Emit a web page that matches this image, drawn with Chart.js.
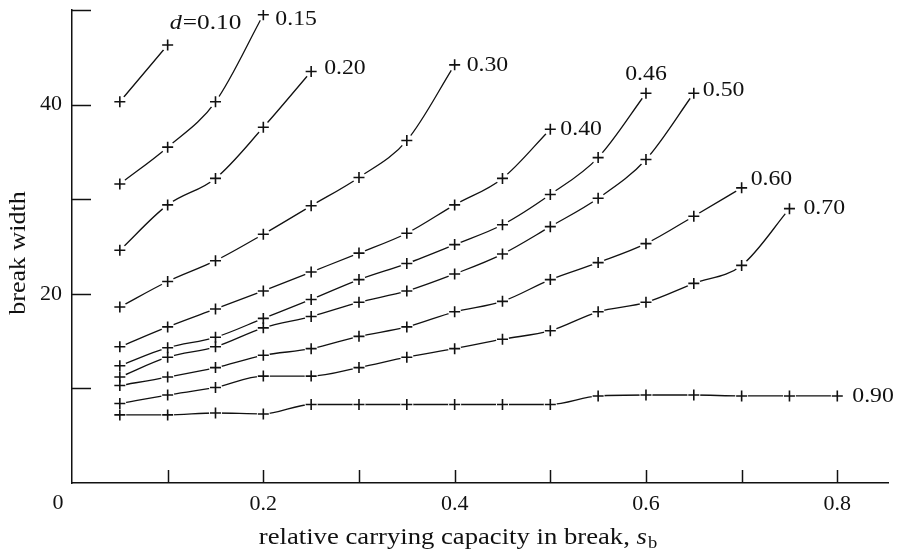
<!DOCTYPE html>
<html>
<head>
<meta charset="utf-8">
<script src="https://cdn.jsdelivr.net/npm/chart.js@4.4.1/dist/chart.umd.min.js"></script>
<style>
  html, body { margin: 0; padding: 0; background: #fff; }
  #wrap { width: 902px; height: 553px; }
</style>
</head>
<body>
<div id="wrap"><canvas id="myChart" width="902" height="553"></canvas></div>
<script>
// relative carrying capacity in break (x positions of the measured points)
var sb = [0.05, 0.10, 0.15, 0.20, 0.25, 0.30, 0.35, 0.40, 0.45, 0.50, 0.55, 0.60, 0.65, 0.70, 0.75, 0.80];

// break width for each d, starting at sb = 0.05
var d010 = [40.3, 46.3];
var d015 = [31.6, 35.5, 40.3, 49.5];
var d020 = [24.6, 29.4, 32.2, 37.6, 43.5];
var d030 = [18.6, 21.3, 23.5, 26.3, 29.3, 32.3, 36.2, 44.2];
var d040 = [14.4, 16.5, 18.4, 20.3, 22.3, 24.3, 26.4, 29.4, 32.2, 37.4];
var d046 = [12.4, 14.3, 15.4, 17.4, 19.4, 21.5, 23.2, 25.2, 27.3, 30.5, 34.4, 41.2];
var d050 = [11.2, 13.3, 14.4, 16.4, 17.6, 19.1, 20.3, 22.1, 24.2, 27.1, 30.1, 34.2, 41.2];
var d060 = [10.3, 11.2, 12.2, 13.5, 14.2, 15.5, 16.5, 18.1, 19.2, 21.5, 23.3, 25.3, 28.2, 31.2];
var d070 = [8.4, 9.3, 10.1, 11.3, 11.3, 12.2, 13.3, 14.2, 15.2, 16.1, 18.1, 19.1, 21.1, 23.0, 29.0];
var d090 = [7.2, 7.2, 7.4, 7.3, 8.3, 8.3, 8.3, 8.3, 8.3, 8.3, 9.2, 9.3, 9.3, 9.2, 9.2, 9.2];

var curveNames = ['0.10', '0.15', '0.20', '0.30', '0.40', '0.46', '0.50', '0.60', '0.70', '0.90'];
var curveValues = [d010, d015, d020, d030, d040, d046, d050, d060, d070, d090];

var yTickLabels = [20, 40];
var xTickLabels = [0.2, 0.4, 0.6, 0.8];

// where the d label sits relative to the last point of its curve (px)
var labelOffsets = [
    [2, -22, 'left'], [12, 4, 'left'], [13, -3, 'left'], [12, 0, 'left'], [10, 0, 'left'],
    [0, -19, 'center'], [9, -3, 'left'], [9, -9, 'left'], [14, 0, 'left'], [15, 0, 'left']
];

var FONT = '"Liberation Serif"';
var INK = '#111';

function toPoints(vals) {
    return vals.map(function (v, i) { return { x: sb[i], y: v }; });
}

// text drawn a little wider than Liberation Serif, closer to the original typeface
function wideText(ctx, text, x, y, font, sx, align) {
    ctx.save();
    ctx.font = font;
    var w = ctx.measureText(text).width * sx;
    var left = align === 'center' ? x - w / 2 : x;
    ctx.translate(left, y);
    ctx.scale(sx, 1);
    ctx.textAlign = 'left';
    ctx.fillText(text, 0, 0);
    ctx.restore();
    return w;
}

var datasets = [];
curveValues.forEach(function (vals, i) {
    var pts = toPoints(vals);
    // the curve itself
    datasets.push({
        label: curveNames[i], data: pts, order: 3,
        borderColor: INK, borderWidth: 1.3, pointRadius: 0,
        cubicInterpolationMode: 'monotone', fill: false
    });
    // small white gap round each marker
    datasets.push({
        label: curveNames[i] + ' gap', data: pts, order: 2, showLine: false,
        pointStyle: 'circle', pointRadius: 6.5, pointBorderWidth: 0,
        pointBackgroundColor: '#fff', pointBorderColor: '#fff'
    });
    // the + markers
    datasets.push({
        label: curveNames[i] + ' marks', data: pts, order: 1, showLine: false,
        pointStyle: 'cross', pointRadius: 5.5, pointBorderWidth: 1.6,
        pointBorderColor: INK, pointBackgroundColor: INK
    });
});

var decorPlugin = {
    id: 'decor',
    afterDraw: function (chart) {
        var ctx = chart.ctx;
        var xs = chart.scales.x, ys = chart.scales.y;
        var area = chart.chartArea;
        ctx.save();
        ctx.strokeStyle = INK;
        ctx.lineWidth = 1.5;
        // inward tick marks
        [10, 20, 30, 40, 50].forEach(function (v) {
            var py = Math.round(ys.getPixelForValue(v)) + 0.5;
            ctx.beginPath();
            ctx.moveTo(area.left, py);
            ctx.lineTo(area.left + 19, py);
            ctx.stroke();
        });
        for (var k = 1; k <= 8; k++) {
            var px = Math.round(xs.getPixelForValue(k / 10)) + 0.5;
            ctx.beginPath();
            ctx.moveTo(px, area.bottom);
            ctx.lineTo(px, area.bottom - 13);
            ctx.stroke();
        }

        ctx.fillStyle = INK;
        ctx.textBaseline = 'middle';
        // curve labels
        curveValues.forEach(function (vals, i) {
            var last = vals.length - 1;
            var px = xs.getPixelForValue(sb[last]);
            var py = ys.getPixelForValue(vals[last]);
            var off = labelOffsets[i];
            if (i === 0) {
                var x0 = px + off[0];
                var w = wideText(ctx, 'd', x0, py + off[1], 'italic 22px ' + FONT, 1.1, 'left');
                wideText(ctx, '=' + curveNames[i], x0 + w + 1, py + off[1], '22px ' + FONT, 1.15, 'left');
            } else {
                wideText(ctx, curveNames[i], px + off[0], py + off[1], '22px ' + FONT, 1.08, off[2]);
            }
        });

        // origin label
        ctx.font = '22px ' + FONT;
        ctx.textAlign = 'center';
        ctx.fillText('0', area.left - 14, area.bottom + 20);

        // x axis title with italic s and subscript b
        var y0 = 538, sx = 1.16;
        var main = 'relative carrying capacity in break, ';
        ctx.font = '23px ' + FONT;
        var wMain = ctx.measureText(main).width * sx;
        ctx.font = 'italic 23px ' + FONT;
        var wS = ctx.measureText('s').width * sx;
        ctx.font = '16px ' + FONT;
        var wB = ctx.measureText('b').width * sx;
        var start = 458 - (wMain + wS + wB + 1) / 2;
        wideText(ctx, main, start, y0, '23px ' + FONT, sx, 'left');
        wideText(ctx, 's', start + wMain, y0, 'italic 23px ' + FONT, sx, 'left');
        wideText(ctx, 'b', start + wMain + wS + 1, y0 + 6, '16px ' + FONT, sx, 'left');

        // y axis title
        ctx.translate(19, 253);
        ctx.rotate(-Math.PI / 2);
        wideText(ctx, 'break width', 0, 0, '23px ' + FONT, 1.13, 'center');
        ctx.restore();
    }
};

var config = {
    type: 'line',
    data: { datasets: datasets },
    options: {
        responsive: false,
        animation: false,
        layout: { padding: { top: 10, right: 14, left: 0, bottom: 0 } },
        plugins: { legend: { display: false }, tooltip: { enabled: false } },
        scales: {
            x: {
                type: 'linear', min: 0, max: 0.853,
                grid: { display: false, drawTicks: false },
                border: { display: true, color: INK, width: 1.5 },
                ticks: {
                    stepSize: 0.1, includeBounds: false, autoSkip: false, maxRotation: 0,
                    padding: 8, color: INK, font: { family: FONT, size: 22 },
                    callback: function (v) {
                        var hit = xTickLabels.find(function (t) { return Math.abs(t - v) < 1e-6; });
                        return hit ? hit.toFixed(1) : '';
                    }
                },
                afterFit: function (s) { s.height = 70; s.paddingLeft = 0; s.paddingRight = 0; }
            },
            y: {
                type: 'linear', min: 0, max: 50,
                grid: { display: false, drawTicks: false },
                border: { display: true, color: INK, width: 1.5 },
                ticks: {
                    stepSize: 10, padding: 10, color: INK, font: { family: FONT, size: 22 },
                    callback: function (v) { return yTickLabels.indexOf(v) >= 0 ? String(v) : ''; }
                },
                afterFit: function (s) { s.width = 72; s.paddingTop = 0; s.paddingBottom = 0; }
            }
        }
    },
    plugins: [decorPlugin]
};

var myChart = null;
function drawChart() {
    if (myChart) return;
    myChart = new Chart(document.getElementById('myChart'), config);
}
// make sure the serif face is ready before anything is drawn
if (document.fonts && document.fonts.load) {
    Promise.all([
        document.fonts.load('22px "Liberation Serif"'),
        document.fonts.load('italic 22px "Liberation Serif"')
    ]).then(drawChart, drawChart);
    setTimeout(drawChart, 1500);
} else {
    drawChart();
}
</script>
</body>
</html>
